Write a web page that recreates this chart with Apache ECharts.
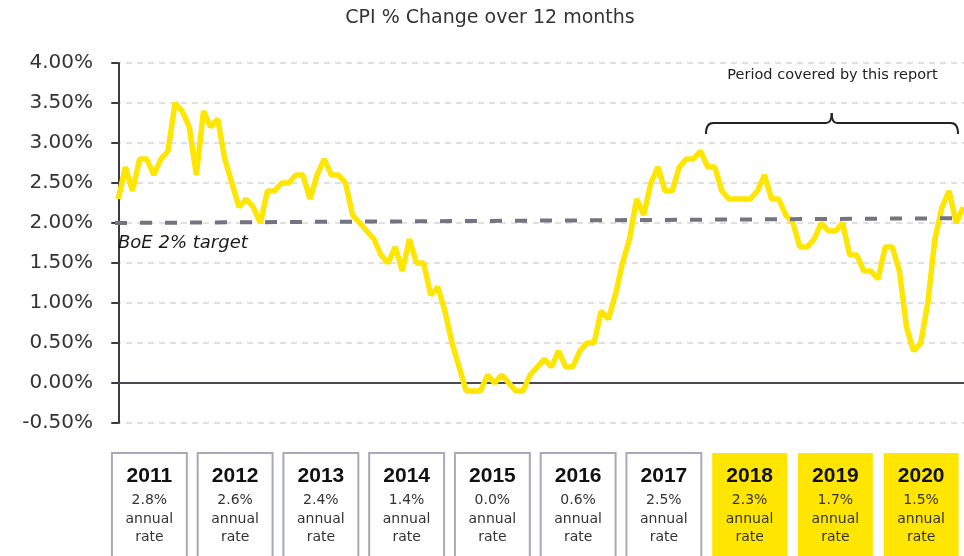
<!DOCTYPE html>
<html>
<head>
<meta charset="utf-8">
<script src="https://cdn.jsdelivr.net/npm/echarts@6/dist/echarts.min.js"></script>
<style>
  html, body { margin: 0; padding: 0; background: #fff; }
  #chart { width: 964px; height: 556px; }
</style>
</head>
<body>
<div id="chart"></div>
<script>
// monthly CPI, 12 month % change (Jan 2011 .. Dec 2020)
let cpi = [
    2.3, 2.7, 2.4, 2.8, 2.8, 2.6, 2.8, 2.9, 3.5, 3.4, 3.2, 2.6,
    3.4, 3.2, 3.3, 2.8, 2.5, 2.2, 2.3, 2.2, 2.0, 2.4, 2.4, 2.5,
    2.5, 2.6, 2.6, 2.3, 2.6, 2.8, 2.6, 2.6, 2.5, 2.1, 2.0, 1.9,
    1.8, 1.6, 1.5, 1.7, 1.4, 1.8, 1.5, 1.5, 1.1, 1.2, 0.9, 0.5,
    0.2, -0.1, -0.1, -0.1, 0.1, 0.0, 0.1, 0.0, -0.1, -0.1, 0.1, 0.2,
    0.3, 0.2, 0.4, 0.2, 0.2, 0.4, 0.5, 0.5, 0.9, 0.8, 1.1, 1.5,
    1.8, 2.3, 2.1, 2.5, 2.7, 2.4, 2.4, 2.7, 2.8, 2.8, 2.9, 2.7,
    2.7, 2.4, 2.3, 2.3, 2.3, 2.3, 2.4, 2.6, 2.3, 2.3, 2.1, 2.0,
    1.7, 1.7, 1.8, 2.0, 1.9, 1.9, 2.0, 1.6, 1.6, 1.4, 1.4, 1.3,
    1.7, 1.7, 1.4, 0.7, 0.4, 0.5, 1.0, 1.8, 2.2, 2.4, 2.0, 2.2
];
// the target line drawn in the picture rises a little from left to right
let target_start = 2.0;
let target_end = 2.06;

let years = ['2011', '2012', '2013', '2014', '2015', '2016', '2017', '2018', '2019', '2020'];
let annual_rate = ['2.8%', '2.6%', '2.4%', '1.4%', '0.0%', '0.6%', '2.5%', '2.3%', '1.7%', '1.5%'];
let report_years = ['2018', '2019', '2020'];

let y_ticks_min = -0.5;
let y_ticks_max = 4;
let y_ticks_step = 0.5;

const YELLOW = '#FFE600';
const FONT = 'DejaVu Sans';

var chartDom = document.getElementById('chart');
var myChart = echarts.init(chartDom);

let line_data = cpi.map((v, i) => [i, v]);
let target_data = [[-0.46, target_start], [119.1, target_end]];
let box_data = years.map((y, i) => [i, 1]);

// bracket over the report period
let bracket_style = { fill: null, stroke: '#222', lineWidth: 2 };
let bracket = [
    { type: 'bezierCurve', shape: { x1: 706, y1: 134, cpx1: 706, cpy1: 123, x2: 713, y2: 123 }, style: bracket_style },
    { type: 'line', shape: { x1: 713, y1: 123, x2: 826, y2: 123 }, style: bracket_style },
    { type: 'bezierCurve', shape: { x1: 826, y1: 123, cpx1: 831.7, cpy1: 123, x2: 831.7, y2: 113 }, style: bracket_style },
    { type: 'bezierCurve', shape: { x1: 831.7, y1: 113, cpx1: 831.7, cpy1: 123, x2: 837, y2: 123 }, style: bracket_style },
    { type: 'line', shape: { x1: 837, y1: 123, x2: 951, y2: 123 }, style: bracket_style },
    { type: 'bezierCurve', shape: { x1: 951, y1: 123, cpx1: 958, cpy1: 123, x2: 958, y2: 134 }, style: bracket_style }
];

var option = {
    animation: false,
    grid: [
        { left: 115, right: 0, top: 63, height: 360 },
        { left: 106.5, width: 870, top: 452, height: 104 }
    ],
    xAxis: [
        {
            gridIndex: 0,
            type: 'value',
            min: -0.46,
            max: 119.1,
            axisLine: { show: true, onZero: true, lineStyle: { color: '#4a4a52', width: 2 } },
            axisTick: { show: false },
            axisLabel: { show: false },
            splitLine: { show: false }
        },
        {
            gridIndex: 1,
            type: 'category',
            data: years,
            show: false
        }
    ],
    yAxis: [
        {
            gridIndex: 0,
            type: 'value',
            min: y_ticks_min,
            max: y_ticks_max,
            interval: y_ticks_step,
            axisLine: { show: true, lineStyle: { color: '#3a3a42', width: 2 } },
            axisTick: { show: true, length: 7, lineStyle: { color: '#3a3a42', width: 2 } },
            axisLabel: {
                margin: 22,
                color: '#333',
                fontSize: 20,
                fontFamily: FONT,
                formatter: function (v) { return v.toFixed(2) + '%'; }
            },
            splitLine: {
                show: true,
                lineStyle: { color: '#d6d6d6', width: 1.5, type: [6, 5] }
            }
        },
        {
            gridIndex: 1,
            type: 'value',
            min: 0,
            max: 1,
            show: false
        }
    ],
    graphic: [
        {
            type: 'text',
            x: 490,
            y: 18,
            style: {
                text: 'CPI % Change over 12 months',
                fill: '#333',
                font: '19px "DejaVu Sans"',
                align: 'center',
                verticalAlign: 'middle'
            }
        },
        {
            type: 'text',
            x: 118,
            y: 243.5,
            z: 10,
            style: {
                text: 'BoE 2% target',
                fill: '#1a1a1a',
                font: 'italic 18px "DejaVu Sans"',
                align: 'left',
                verticalAlign: 'middle'
            }
        },
        {
            type: 'text',
            x: 832.5,
            y: 75,
            style: {
                text: 'Period covered by this report',
                fill: '#222',
                font: '14.5px "DejaVu Sans"',
                align: 'center',
                verticalAlign: 'middle'
            }
        },
        {
            type: 'group',
            children: bracket
        }
    ],
    series: [
        {
            name: 'CPI',
            type: 'line',
            xAxisIndex: 0,
            yAxisIndex: 0,
            data: line_data,
            showSymbol: false,
            z: 3,
            lineStyle: { color: YELLOW, width: 5.5 }
        },
        {
            name: 'BoE target',
            type: 'line',
            xAxisIndex: 0,
            yAxisIndex: 0,
            data: target_data,
            showSymbol: false,
            z: 4,
            lineStyle: { color: '#747480', width: 4, type: [12, 13] }
        },
        {
            name: 'years',
            type: 'custom',
            xAxisIndex: 1,
            yAxisIndex: 1,
            data: box_data,
            clip: false,
            renderItem: function (params, api) {
                let i = api.value(0);
                let c = api.coord([i, 1]);
                let w = api.size([1, 0])[0] * 76 / 87;
                let hl = report_years.indexOf(years[i]) >= 0;
                let top = c[1] + 1;
                return {
                    type: 'group',
                    children: [
                        {
                            type: 'rect',
                            shape: { x: c[0] - w / 2, y: top, width: w, height: 140 },
                            style: hl ? { fill: YELLOW } : { fill: '#fff', stroke: '#a9a9b9', lineWidth: 2 }
                        },
                        {
                            type: 'text',
                            x: c[0], y: top + 23,
                            style: { text: years[i], fill: '#111', font: 'bold 21px "Liberation Sans"', align: 'center', verticalAlign: 'middle' }
                        },
                        {
                            type: 'text',
                            x: c[0], y: top + 47,
                            style: { text: annual_rate[i], fill: '#333', font: '14px "DejaVu Sans"', align: 'center', verticalAlign: 'middle' }
                        },
                        {
                            type: 'text',
                            x: c[0], y: top + 66,
                            style: { text: 'annual', fill: '#333', font: '14px "DejaVu Sans"', align: 'center', verticalAlign: 'middle' }
                        },
                        {
                            type: 'text',
                            x: c[0], y: top + 84,
                            style: { text: 'rate', fill: '#333', font: '14px "DejaVu Sans"', align: 'center', verticalAlign: 'middle' }
                        }
                    ]
                };
            }
        }
    ]
};

option && myChart.setOption(option);
</script>
</body>
</html>
